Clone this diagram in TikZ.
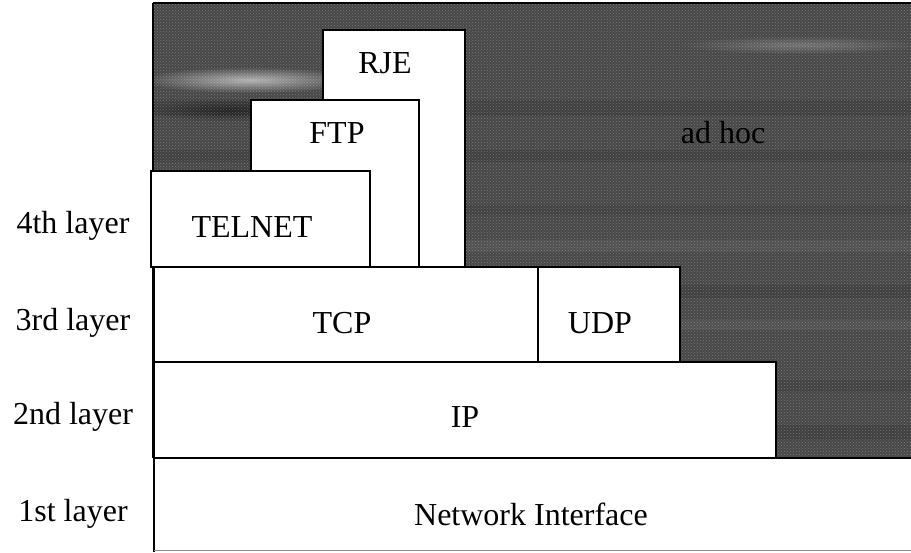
\documentclass[tikz,border=0pt]{standalone}
\usepackage{fontspec}
\setmainfont{Liberation Serif}
\usetikzlibrary{patterns}
\begin{document}
\begin{tikzpicture}[x=1pt,y=-1pt,
  box/.style={draw=black, line width=2.2pt, fill=white},
  txt/.style={font=\fontsize{32}{36}\selectfont, inner sep=0pt},
  band/.style={fill=black, opacity=#1},
  hiband/.style={fill=white, opacity=#1},
]
\useasboundingbox (0,0) rectangle (911,552);
\fill[white] (0,0) rectangle (911,552);

% textured backdrop of the ad hoc region
\begin{scope}
  \clip (153,3) rectangle (911,458);
  \fill[black!72] (153,3) rectangle (911,458);
  \shade[inner color=black!30, outer color=black!72] (250,80) ellipse [x radius=110, y radius=13];
  \shade[inner color=black!55, outer color=black!72] (800,45) ellipse [x radius=120, y radius=9];
  \shade[inner color=black!85, outer color=black!72] (230,110) ellipse [x radius=90, y radius=12];
  \path[band=0.10] (153,100) rectangle (911,116);
  \path[band=0.10] (153,150) rectangle (911,162);
  \path[band=0.08] (465,205) rectangle (911,215);
  \path[hiband=0.06] (465,240) rectangle (911,252);
  \path[band=0.10] (680,285) rectangle (911,298);
  \path[hiband=0.06] (680,320) rectangle (911,330);
  \path[band=0.08] (775,380) rectangle (911,392);
  \path[band=0.10] (775,425) rectangle (911,440);
  \fill[pattern=crosshatch dots, pattern color=white!85!black, opacity=0.35] (153,3) rectangle (911,458);
\end{scope}
\draw[line width=1.5pt] (153,3) -- (911,3);
\draw[line width=2.2pt] (153,3) -- (153,458);

% application protocols (4th layer), stacked back to front
\draw[box] (323,30) rectangle (465,267);
\draw[box] (251,100) rectangle (419,267);
\draw[box] (151,171) rectangle (370,267);
\node[txt] (rje) at (385,63) {RJE};
\node[txt] (ftp) at (337,133) {FTP};
\node[txt] (telnet) at (252,227) {TELNET};

% transport (3rd layer)
\draw[box] (154,267) rectangle (538,362);
\draw[box] (538,267) rectangle (680,362);
\node[txt] (tcp) at (342,323) {TCP};
\node[txt] (udp) at (600,323) {UDP};

% internet (2nd layer)
\draw[box] (154,362) rectangle (776,458);
\node[txt] (ip) at (465,417) {IP};

% network interface (1st layer)
\fill[white] (154,458) rectangle (911,550);
\draw[line width=2.2pt] (154,458) -- (911,458);
\draw[line width=2.2pt] (154,458) -- (154,552);
\draw[black!45, line width=1pt] (154,550) -- (911,550);
\node[txt] (ni) at (531,514) {Network Interface};

% overlay caption on the backdrop
\node[txt, text=black] (adhoc) at (723,133) {ad hoc};

% layer names
\node[txt] (l4) at (73,226) {4th layer};
\node[txt] (l3) at (73,323) {3rd layer};
\node[txt] (l2) at (73,417) {2nd layer};
\node[txt] (l1) at (73,514) {1st layer};
\end{tikzpicture}
\end{document}
